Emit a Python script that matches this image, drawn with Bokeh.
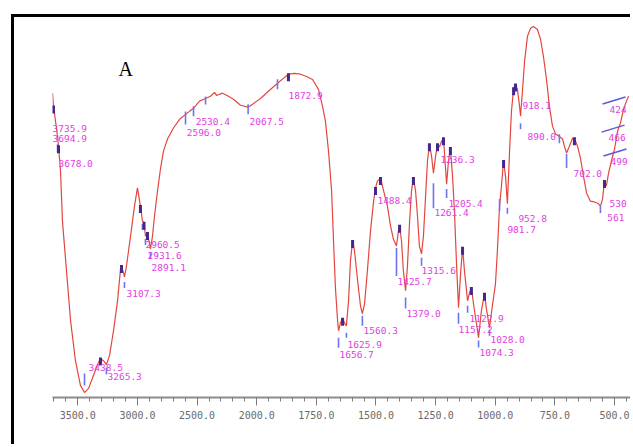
import numpy as np
from bokeh.plotting import figure
from bokeh.models import Range1d, FixedTicker, Label, ColumnDataSource
from bokeh.core.properties import value
from bokeh.embed import file_html
from bokeh.resources import INLINE

# ---------------- data ----------------
wavenumber = [3712, 3704, 3687, 3670, 3662, 3645, 3629, 3595, 3561, 3520, 3478, 3444,
              3410, 3369, 3335, 3310, 3285, 3260, 3234, 3201, 3167, 3142, 3134, 3117,
              3109, 3092, 3058, 3025, 3000, 2975, 2958, 2945, 2933, 2916, 2891, 2874,
              2857, 2832, 2807, 2782, 2748, 2698, 2647, 2597, 2564, 2530, 2480, 2429,
              2388, 2354, 2337, 2287, 2237, 2195, 2136, 2072, 2035, 1984, 1951, 1913,
              1888, 1867, 1842, 1816, 1791, 1766, 1741, 1724, 1712, 1699, 1686, 1678,
              1670, 1661, 1657, 1649, 1640, 1632, 1624, 1615, 1607, 1598, 1590, 1577,
              1565, 1557, 1548, 1536, 1523, 1510, 1502, 1494, 1481, 1468, 1452, 1439,
              1427, 1414, 1406, 1401, 1393, 1385, 1376, 1368, 1359, 1351, 1343, 1334,
              1326, 1318, 1309, 1301, 1292, 1284, 1276, 1267, 1259, 1250, 1242, 1234,
              1225, 1217, 1209, 1204, 1196, 1188, 1179, 1171, 1162, 1154, 1146, 1137,
              1129, 1116, 1108, 1100, 1087, 1070, 1058, 1045, 1037, 1024, 1012, 999,
              991, 982, 974, 965, 957, 949, 940, 932, 923, 915, 907, 898, 894, 886,
              877, 865, 852, 840, 823, 810, 798, 785, 773, 760, 747, 731, 718, 710,
              701, 689, 676, 668, 655, 643, 630, 617, 601, 584, 567, 559, 550, 542,
              534, 525, 513, 500, 487, 475, 462, 450, 441]
transmittance = [80.3, 76.8, 72.9, 68.9, 66.3, 59.7, 46.6, 33.4, 20.3, 9.7, 3.2, 1.3,
                 2.4, 5.8, 8.7, 10.3, 9.7, 8.7, 11.1, 17.6, 25.5, 33.9, 34.7, 32.9,
                 31.8, 34.7, 42.6, 50.5, 55.3, 50.5, 46.6, 46.1, 42.6, 43.4, 39.2, 42.6,
                 47.9, 54.5, 60.3, 65.0, 68.2, 71.1, 73.4, 74.7, 75.5, 76.3, 78.2, 78.9,
                 79.5, 80.5, 79.7, 80.3, 79.5, 78.7, 77.1, 76.6, 77.4, 78.9, 80.8, 82.9,
                 84.2, 85.3, 85.5, 85.3, 84.7, 83.9, 81.3, 76.8, 72.9, 65.0, 54.5, 41.3,
                 28.9, 20.3, 17.6, 19.7, 20.8, 19.7, 18.9, 25.5, 36.1, 41.3, 38.7, 30.8,
                 24.2, 22.1, 24.7, 33.4, 43.9, 51.8, 55.3, 57.1, 57.9, 54.5, 50.5, 45.3,
                 41.8, 40.0, 43.9, 45.3, 41.3, 33.4, 28.2, 34.7, 46.6, 54.5, 57.9, 54.5,
                 47.9, 40.0, 37.9, 42.6, 53.2, 62.4, 66.8, 63.7, 59.2, 63.7, 66.8, 66.1,
                 67.6, 68.4, 61.1, 56.3, 62.4, 65.8, 58.4, 49.2, 34.7, 23.7, 32.1, 39.5,
                 33.4, 25.5, 27.6, 28.9, 22.9, 15.8, 22.9, 27.4, 23.4, 18.4, 24.2, 30.0,
                 38.7, 50.5, 55.8, 62.4, 58.4, 51.1, 65.0, 75.5, 81.6, 82.6, 81.3, 76.8,
                 74.2, 80.8, 88.7, 95.3, 97.4, 97.9, 97.1, 94.5, 90.0, 83.9, 76.8, 71.6,
                 69.5, 68.9, 68.2, 66.3, 64.5, 66.3, 68.4, 68.4, 66.3, 63.2, 58.4, 53.9,
                 51.8, 51.6, 51.1, 50.5, 52.4, 57.1, 55.8, 59.2, 62.4, 65.5, 70.3, 72.4,
                 76.1, 78.2, 79.5]

# axis ticks (scale changes at 2000 cm-1)
tick_wn = [3500, 3000, 2500, 2000, 1750, 1500, 1250, 1000, 750, 500]
tick_labels = ["3500.0", "3000.0", "2500.0", "2000.0", "1750.0",
               "1500.0", "1250.0", "1000.0", "750.0", "500.0"]
minor_wn = list(range(3700, 2000, -100)) + list(range(1950, 400, -50))

# band markers (minima, light blue) and peak marks (dark)
band_wn = [3670, 3444, 3260, 3109, 2958, 2933, 2891, 2597, 2530, 2429, 2072, 1913,
           1657, 1624, 1557, 1414, 1376, 1309, 1259, 1204, 1154, 1116, 1070, 1024,
           982, 949, 894, 731, 701, 559]
band_top_px = [8, -19, 3, 5, 3, 3, 3, -3, -2, -2, -3, -4, 7, 7, 2, 2, 7, 4, 10, 5,
               5, 5, 3, 2, -7, 4, 7, -2, 1, 0]
band_bot_px = [16, -7, 10, 11, 9, 9, 10, 10, 8, 6, 7, 6, 17, 12, 12, 30, 18, 12, 35,
               14, 16, 12, 10, 8, 5, 10, 13, 7, 15, 7]
peak_wn = [3704, 3662, 3310, 3134, 2975, 2945, 2916, 1867, 1640, 1598, 1502, 1481,
           1401, 1343, 1276, 1242, 1217, 1188, 1137, 1100, 1045, 965, 923, 915, 668, 542]

# peak labels (text, and where each label sits)
label_text = ["3735.9", "3694.9", "3678.0", "3438.5", "3265.3", "3107.3", "2960.5",
              "2931.6", "2891.1", "2530.4", "2596.0", "2067.5", "1872.9", "1656.7",
              "1625.9", "1560.3", "1488.4", "1425.7", "1379.0", "1315.6", "1261.4",
              "1236.3", "1205.4", "1157.2", "1122.9", "1074.3", "1028.0", "981.7",
              "952.8", "918.1", "890.0", "702.0", "530", "561", "499", "466", "424"]
label_wn = [3712, 3712, 3662, 3410, 3251, 3092, 2933, 2916, 2882, 2512, 2587, 2060,
            1867, 1653, 1619, 1552, 1494, 1410, 1372, 1309, 1255, 1230, 1196, 1154,
            1108, 1066, 1020, 949, 903, 886, 865, 672, 521, 530, 517, 525, 521]
label_t = [71.1, 68.4, 61.8, 7.9, 5.5, 27.4, 40.5, 37.4, 34.2, 72.9, 70.0, 72.9,
           79.7, 11.3, 13.9, 17.6, 52.1, 30.5, 22.1, 33.4, 48.7, 62.9, 51.3, 17.9,
           20.8, 11.8, 15.3, 44.2, 47.1, 77.1, 68.9, 59.2, 51.3, 47.4, 62.4, 68.7, 76.1]
leader_labels = ["424", "466", "499"]


def to_axis(w):
    """Piecewise-linear FTIR abscissa: 500 cm-1 per unit above 2000, 250 below."""
    w = np.asarray(w, dtype=float)
    return np.where(w >= 2000, (4000.0 - w) / 500.0, 4.0 + (2000.0 - w) / 250.0)


# page geometry: black frame (left at x=11, top at y=14, 3 px wide),
# figure canvas starts right inside it
OFF_X, OFF_Y, BW = 11, 14, 3
W = 633 - OFF_X - BW
H = 447 - OFF_Y - BW
FRAME_LEFT = 52 - OFF_X - BW
FRAME_TOP = 18 - OFF_Y - BW
FRAME_BOTTOM = H - (397 - OFF_Y - BW)
PX_U = 59.63          # screen px per axis unit
u_start = 0.5752
u_end = u_start + (W - FRAME_LEFT) / PX_U
PX_T = (397 - 18) / 100.0   # screen px per transmittance unit

p = figure(width=W, height=H, output_backend="svg", toolbar_location=None,
           x_range=Range1d(u_start, u_end), y_range=Range1d(0, 100),
           y_axis_location=None, min_border_left=FRAME_LEFT, min_border_right=0,
           min_border_top=FRAME_TOP, min_border_bottom=FRAME_BOTTOM)
p.outline_line_color = None
p.grid.visible = False
p.background_fill_color = "white"
p.border_fill_color = "white"
p.styles = {"margin-left": f"{OFF_X}px", "margin-top": f"{OFF_Y}px",
            "border-left": f"{BW}px solid black", "border-top": f"{BW}px solid black"}

x_curve = to_axis(wavenumber)
t_arr = np.asarray(transmittance)
order = np.argsort(x_curve)


def curve_t(w):
    return np.interp(to_axis(w), x_curve[order], t_arr[order])


# spectrum
p.line(x_curve, transmittance, line_color="#e2473f", line_width=1.2)

# light-blue band markers
bx = to_axis(band_wn)
bt = curve_t(band_wn)
p.segment(x0=bx, y0=bt - np.asarray(band_top_px) / PX_T,
          x1=bx, y1=bt - np.asarray(band_bot_px) / PX_T,
          line_color="#6f74ee", line_width=1.6)

# dark peak marks
px_ = to_axis(peak_wn)
pt = curve_t(peak_wn)
p.segment(x0=px_, y0=pt + 1.0 / PX_T, x1=px_, y1=pt - 7.0 / PX_T,
          line_color="#43268e", line_width=3)

# leader lines for the rightmost labels
lead_idx = [label_text.index(s) for s in leader_labels]
lx = to_axis([label_wn[i] for i in lead_idx]) - 7.0 / PX_U
ly = np.asarray([label_t[i] for i in lead_idx]) + 5.0 / PX_T
p.segment(x0=lx, y0=ly, x1=lx + 23.0 / PX_U, y1=ly + 7.0 / PX_T,
          line_color="#5a5cd8", line_width=1.5)

# peak labels
src = ColumnDataSource(dict(x=to_axis(label_wn), y=label_t, text=label_text))
p.text(x="x", y="y", text="text", source=src, text_font=value("DejaVu Sans Mono"),
       text_font_size="9.5px", text_color="#e23ee2", text_baseline="middle",
       text_align="left")

# panel letter
p.add_layout(Label(x=float(to_axis(3099)), y=86.6, text="A", text_font="Liberation Serif",
                   text_font_size="20px", text_color="black", text_align="center",
                   text_baseline="middle"))

# x axis
ax = p.xaxis[0]
ax.ticker = FixedTicker(ticks=list(to_axis(tick_wn)), minor_ticks=list(to_axis(minor_wn)))
ax.major_label_overrides = {float(k): v for k, v in zip(to_axis(tick_wn), tick_labels)}
ax.axis_line_color = "#8c8c8c"
ax.axis_line_width = 1.8
ax.major_tick_line_color = "#7c7c7c"
ax.minor_tick_line_color = "#7c7c7c"
ax.major_tick_in = 0
ax.major_tick_out = 8
ax.minor_tick_in = 0
ax.minor_tick_out = 4
ax.major_label_standoff = 5
ax.major_label_text_font = "DejaVu Sans Mono"
ax.major_label_text_font_size = "10px"
ax.major_label_text_color = "#6a6a6a"

open("out.html", "w").write(file_html(p, INLINE))
